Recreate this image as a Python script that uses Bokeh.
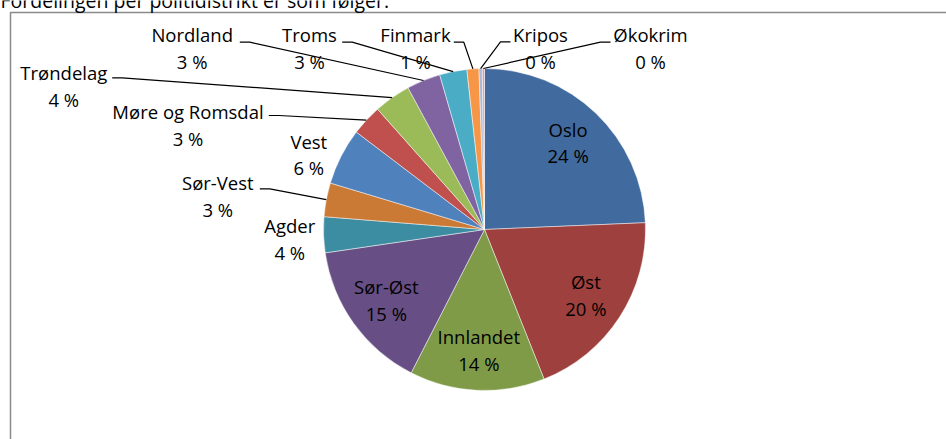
import numpy as np
from bokeh.plotting import figure
from bokeh.models import Range1d, ColumnDataSource
from bokeh.core.properties import value
from bokeh.embed import file_html
from bokeh.resources import INLINE

# ---------------- data ----------------
title_text = "Fordelingen per politidistrikt er som følger:"
districts = ["Oslo", "Øst", "Innlandet", "Sør-Øst", "Agder", "Sør-Vest", "Vest",
             "Møre og Romsdal", "Trøndelag", "Nordland", "Troms", "Finmark",
             "Kripos", "Økokrim"]
shares = [24.4, 19.7, 13.6, 15.2, 3.6, 3.4, 5.7, 3.1, 3.7, 3.4, 2.75, 1.2, 0.33, 0.22]
colors = ["#416A9E", "#9E413E", "#7F9B48", "#674F85", "#3C8CA2", "#CB7A36",
          "#4F81BD", "#C0504D", "#9BBB59", "#8064A2", "#4BACC6", "#F79646",
          "#A9B8D8", "#D4A3A8"]

# ---------------- layout ----------------
W, H = 946, 439
CX, CY, R = 484, 229, 161          # pie centre / radius in pixels
FONT = value("Open Sans")
FSZ = 18.5
TFSZ = 19.5
CAP = 0.357                        # cap-centre height above baseline (em)
INSIDE = {"Oslo", "Øst", "Innlandet", "Sør-Øst"}
INSIDE_R = 0.75
# outside labels: (x centre, baseline of first line, leader anchor or None)
OUT = {
    "Agder": (289.3, 231.7, None),
    "Sør-Vest": (217.3, 189.0, (259.3, 188.3)),
    "Vest": (308.3, 147.3, None),
    "Møre og Romsdal": (187.5, 118.0, (268.3, 115.0)),
    "Trøndelag": (63.3, 79.0, (111.7, 77.3)),
    "Nordland": (191.7, 40.7, (239.3, 41.7)),
    "Troms": (309.0, 40.7, (341.7, 41.7)),
    "Finmark": (415.0, 40.7, (453.3, 41.7)),
    "Kripos": (540.0, 40.7, (510.0, 41.3)),
    "Økokrim": (650.0, 40.7, (610.0, 41.7)),
}
LINE2 = 26.5     # distance between label lines
ELBOW = 10       # horizontal leader segment


def Y(ypx):
    """pixel (y down) -> data y (y up)"""
    return H - ypx


vals = np.array(shares, dtype=float)
frac = vals / vals.sum()
cum = np.concatenate([[0.0], np.cumsum(frac)])
theta0 = np.pi / 2 - 2 * np.pi * cum[:-1]   # clockwise from 12 o'clock
theta1 = np.pi / 2 - 2 * np.pi * cum[1:]
mid = (theta0 + theta1) / 2
pct_labels = [f"{int(round(f * 100))} %" for f in frac]

p = figure(width=W, height=H, output_backend="svg", toolbar_location=None,
           x_range=Range1d(0, W), y_range=Range1d(0, H),
           x_axis_type=None, y_axis_type=None, min_border=0)
p.grid.visible = False
p.outline_line_color = None
p.background_fill_color = "white"
p.border_fill_color = "white"

# chart frame (top and left edges visible)
p.quad(left=[10], right=[W + 20], top=[Y(12)], bottom=[-20],
       fill_color=None, line_color="#8a8a8a", line_width=1.5)

# title (partially cut at the top, as in the source)
p.text(x=[0], y=[Y(6.5 - CAP * TFSZ)], text=[title_text], text_font=FONT,
       text_font_size=f"{TFSZ}px", text_align="left", text_baseline="middle",
       text_color="#000000")

# pie
src = ColumnDataSource(dict(start=theta1, end=theta0, color=colors, name=districts))
p.wedge(x=CX, y=Y(CY), radius=R, start_angle="start", end_angle="end",
        fill_color="color", line_color="white", line_width=0.6, line_alpha=0.8,
        source=src)

# labels
lx, ly, lt = [], [], []
lead_xs, lead_ys = [], []
for i, name in enumerate(districts):
    if name in INSIDE:
        cx = CX + INSIDE_R * R * np.cos(mid[i])
        cy = CY - INSIDE_R * R * np.sin(mid[i])
        b1 = cy - 6.7
    else:
        cx, b1, anchor = OUT[name]
        if anchor is not None:
            ax, ay = anchor
            ex = CX + R * np.cos(mid[i])
            ey = CY - R * np.sin(mid[i])
            step = ELBOW if ex > ax else -ELBOW
            lead_xs.append([ax, ax + step, ex])
            lead_ys.append([Y(ay), Y(ay), Y(ey)])
    lx += [cx, cx]
    ly += [Y(b1 - CAP * FSZ), Y(b1 + LINE2 - CAP * FSZ)]
    lt += [name, pct_labels[i]]

p.multi_line(xs=lead_xs, ys=lead_ys, line_color="#000000", line_width=1.2)
p.text(x=lx, y=ly, text=lt, text_font=FONT, text_font_size=f"{FSZ}px",
       text_align="center", text_baseline="middle", text_color="#000000")

open("out.html", "w").write(file_html(p, INLINE))
